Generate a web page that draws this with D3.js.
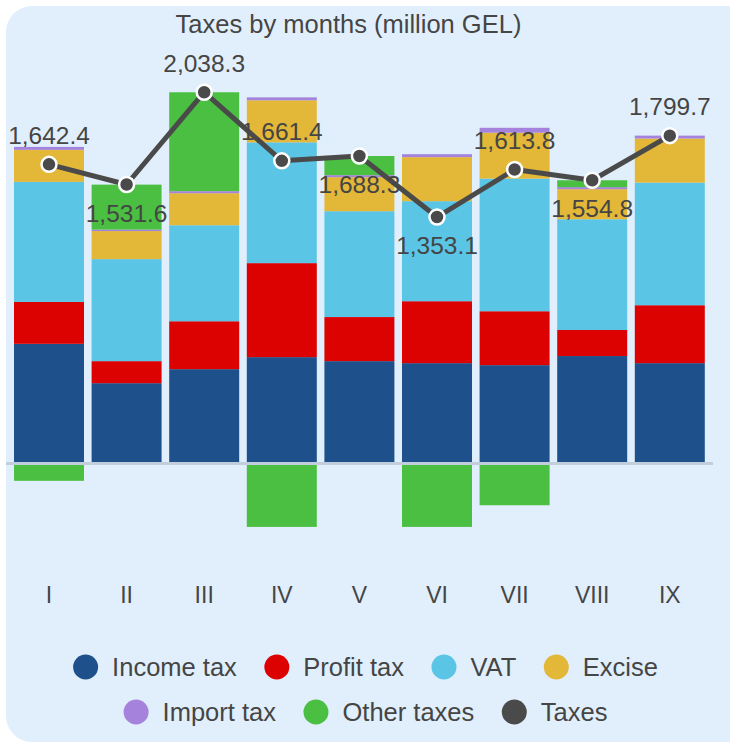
<!DOCTYPE html>
<html>
<head>
<meta charset="utf-8">
<script src="https://cdn.jsdelivr.net/npm/d3@7"></script>
<style>
  html, body { margin: 0; padding: 0; background: #ffffff; }
  svg { display: block; font-family: "Liberation Sans", Arial, sans-serif; }
</style>
</head>
<body>
<svg id="chart" width="730" height="744"></svg>
<script>
// ---- data ----
const months = ["I", "II", "III", "IV", "V", "VI", "VII", "VIII", "IX"];
const incomeTax = [657, 441, 518, 584, 562, 551, 540, 590, 551];
const profitTax = [230, 121, 263, 516, 242, 340, 296, 143, 318];
const vat       = [659, 560, 527, 663, 581, 549, 728, 608, 673];
const excise    = [176, 154, 176, 231, 187, 242, 252, 165, 242];
const importTax = [16, 8, 11, 16, 11, 16, 27, 11, 16];
const otherTaxes = [-95, 247, 543, -348, 105, -348, -229, 38, 0];
const taxes = [1642.4, 1531.6, 2038.3, 1661.4, 1688.3, 1353.1, 1613.8, 1554.8, 1799.7];
const labelSide = ["up", "down", "up", "up", "down", "down", "up", "down", "up"];

const seriesNames = ["Income tax", "Profit tax", "VAT", "Excise", "Import tax", "Other taxes"];
const seriesColors = ["#1e508b", "#dd0202", "#5bc5e5", "#e3b737", "#a583dc", "#4bbf42"];
const lineName = "Taxes";
const lineColor = "#4a4a4a";
const textColor = "#454545";

// ---- table for stacking ----
const seriesArrays = [incomeTax, profitTax, vat, excise, importTax, otherTaxes];
const table = months.map((m, i) => {
  const row = { month: m };
  seriesNames.forEach((s, k) => row[s] = seriesArrays[k][i]);
  return row;
});

const svg = d3.select("#chart");

// card background
svg.append("rect")
  .attr("x", 6).attr("y", 6).attr("width", 760).attr("height", 736)
  .attr("rx", 26).attr("ry", 26)
  .attr("fill", "#e1effc");

// title
svg.append("text")
  .attr("x", 348.5).attr("y", 33)
  .attr("text-anchor", "middle")
  .attr("font-size", 25.5)
  .attr("fill", textColor)
  .text("Taxes by months (million GEL)");

// scales
const x = d3.scaleBand()
  .domain(months)
  .range([10.2, 708.6])
  .paddingInner(0.098)
  .paddingOuter(0.049);

const y = d3.scaleLinear()
  .domain([-500, 2500])
  .range([554.6, 8.1]);

// stacked bars
const stack = d3.stack()
  .keys(seriesNames)
  .offset(d3.stackOffsetDiverging);
const stacked = stack(table);

const gBars = svg.append("g");
stacked.forEach((layer, k) => {
  gBars.append("g")
    .attr("fill", seriesColors[k])
    .selectAll("rect")
    .data(layer)
    .join("rect")
    .attr("x", d => x(d.data.month))
    .attr("width", x.bandwidth())
    .attr("y", d => y(Math.max(d[0], d[1])))
    .attr("height", d => Math.abs(y(d[0]) - y(d[1])));
});

// zero line
svg.append("rect")
  .attr("x", 6).attr("width", 707)
  .attr("y", y(0) - 1.5).attr("height", 3)
  .attr("fill", "#c3cedc");

// x axis labels
const xAxis = d3.axisBottom(x).tickSize(0).tickPadding(0);
const gx = svg.append("g")
  .attr("transform", "translate(0,587)")
  .call(xAxis);
gx.select(".domain").remove();
gx.selectAll("text")
  .attr("font-size", 23)
  .attr("font-family", "Liberation Sans, Arial, sans-serif")
  .attr("fill", textColor)
  .attr("dy", "0.71em");

// line
const cx = m => x(m) + x.bandwidth() / 2;
const line = d3.line()
  .x((d, i) => cx(months[i]))
  .y(d => y(d));

svg.append("path")
  .datum(taxes)
  .attr("d", line)
  .attr("fill", "none")
  .attr("stroke", lineColor)
  .attr("stroke-width", 5)
  .attr("stroke-linejoin", "round");

svg.append("g")
  .selectAll("circle")
  .data(taxes)
  .join("circle")
  .attr("cx", (d, i) => cx(months[i]))
  .attr("cy", d => y(d))
  .attr("r", 7.5)
  .attr("fill", lineColor)
  .attr("stroke", "#ffffff")
  .attr("stroke-width", 2.5);

// data labels
const fmt = d3.format(",.1f");
svg.append("g")
  .selectAll("text")
  .data(taxes)
  .join("text")
  .attr("x", (d, i) => cx(months[i]))
  .attr("y", (d, i) => labelSide[i] === "up" ? y(d) - 20.5 : y(d) + 37)
  .attr("text-anchor", "middle")
  .attr("font-size", 24.5)
  .attr("fill", textColor)
  .text(d => fmt(d));

// legend
const legendRows = [
  seriesNames.slice(0, 4).map((n, k) => ({ name: n, color: seriesColors[k] })),
  [
    { name: seriesNames[4], color: seriesColors[4] },
    { name: seriesNames[5], color: seriesColors[5] },
    { name: lineName, color: lineColor }
  ]
];
const rowY = [667, 712];
const markerR = 12.5, textGap = 14, itemGap = 27.5, legendCenter = 365.5;

legendRows.forEach((items, r) => {
  const g = svg.append("g");
  const widths = [];
  const texts = items.map(it => {
    const t = g.append("text")
      .attr("font-size", 25.5)
      .attr("fill", textColor)
      .attr("dy", "0.35em")
      .text(it.name);
    widths.push(t.node().getComputedTextLength());
    return t;
  });
  const total = items.reduce((s, it, i) => s + 2 * markerR + textGap + widths[i], 0) + itemGap * (items.length - 1);
  let cur = legendCenter - total / 2;
  items.forEach((it, i) => {
    g.append("circle")
      .attr("cx", cur + markerR)
      .attr("cy", rowY[r])
      .attr("r", markerR)
      .attr("fill", it.color);
    texts[i].attr("x", cur + 2 * markerR + textGap).attr("y", rowY[r] + 0.5);
    cur += 2 * markerR + textGap + widths[i] + itemGap;
  });
});
</script>
</body>
</html>
